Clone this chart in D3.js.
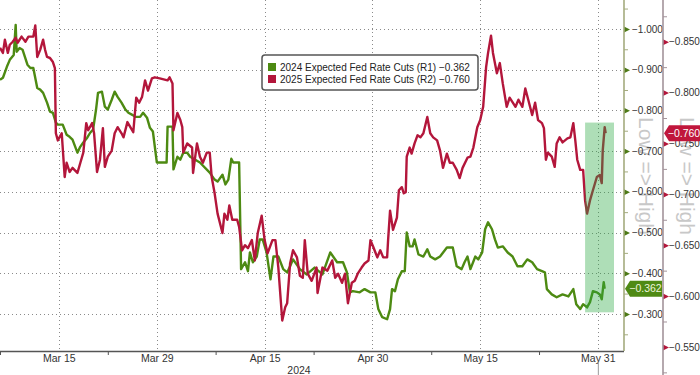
<!DOCTYPE html>
<html>
<head>
<meta charset="utf-8">
<script src="https://cdn.jsdelivr.net/npm/d3@7"></script>
<style>
    body { margin: 0; background: #fff; }
    svg { display: block; font-family: "Liberation Sans", Arial, sans-serif; }
</style>
</head>
<body>
<svg id="chart" width="700" height="375"></svg>
<script>
// x positions are trading days (weekdays) counted from Thu 7 Mar 2024
var startDate = '2024-03-07';
var lastDay = 63.67;

var majorTickDates = ['2024-03-15', '2024-03-29', '2024-04-15', '2024-04-30', '2024-05-15', '2024-05-31'];
var majorTickLabels = ['Mar 15', 'Mar 29', 'Apr 15', 'Apr 30', 'May 15', 'May 31'];
var minorTickDates = ['2024-03-07', '2024-03-22', '2024-04-08', '2024-04-22', '2024-05-08', '2024-05-23'];
var yearLabel = '2024';

var r1Ticks = [-1.0, -0.9, -0.8, -0.7, -0.6, -0.5, -0.4, -0.3];
var r2Ticks = [-0.85, -0.8, -0.75, -0.7, -0.65, -0.6, -0.55];

var seriesNames = ['2024 Expected Fed Rate Cuts (R1)', '2025 Expected Fed Rate Cuts (R2)'];
var lastValues = [-0.362, -0.760];

// highlighted window: trading days, R1 values
var highlightDays = [59.7, 62.65];
var highlightR1 = [-0.770, -0.304];

// [trading day, value]
var cuts2024 = [
    [0.0, -0.875], [0.3, -0.880], [0.7, -0.907], [1.0, -0.924], [1.4, -0.936], [1.6, -1.010], [1.7, -0.944],
    [2.0, -0.953], [2.3, -0.949], [2.8, -0.912], [3.1, -0.904], [3.4, -0.904], [3.8, -0.855], [4.1, -0.851],
    [4.4, -0.843], [4.8, -0.819], [5.1, -0.797], [5.4, -0.794], [5.7, -0.770], [5.9, -0.765], [6.4, -0.765],
    [6.8, -0.740], [7.1, -0.735], [7.4, -0.728], [7.9, -0.696], [8.2, -0.711], [8.5, -0.721], [8.9, -0.733],
    [9.2, -0.745], [9.5, -0.753], [9.8, -0.802], [10.0, -0.843], [10.4, -0.846], [10.7, -0.809], [11.0, -0.802],
    [11.4, -0.826], [11.7, -0.846], [12.0, -0.833], [12.4, -0.819], [12.8, -0.802], [13.1, -0.794], [13.5, -0.789],
    [13.8, -0.784], [14.3, -0.784], [14.6, -0.794], [15.0, -0.782], [15.3, -0.757], [15.6, -0.748], [16.0, -0.672],
    [17.0, -0.672], [17.1, -0.760], [17.6, -0.760], [17.7, -0.655], [18.1, -0.686], [18.4, -0.679], [18.7, -0.696],
    [19.1, -0.696], [19.4, -0.686], [20.4, -0.672], [21.4, -0.647], [21.9, -0.630], [22.2, -0.625], [22.7, -0.642],
    [23.0, -0.618], [23.3, -0.630], [23.6, -0.681], [23.8, -0.672], [24.4, -0.672], [24.6, -0.410], [25.0, -0.427],
    [25.3, -0.405], [25.5, -0.451], [25.8, -0.427], [26.2, -0.441], [26.5, -0.483], [26.8, -0.483], [27.2, -0.451],
    [27.6, -0.385], [27.9, -0.441], [28.4, -0.441], [28.9, -0.410], [29.3, -0.402], [29.6, -0.417], [29.9, -0.434],
    [30.6, -0.410], [31.3, -0.397], [32.1, -0.414], [32.9, -0.397], [33.7, -0.451], [34.4, -0.427], [35.0, -0.427],
    [35.4, -0.402], [35.7, -0.353], [36.0, -0.356], [36.7, -0.353], [37.2, -0.361], [37.8, -0.353], [38.3, -0.353],
    [38.6, -0.312], [39.0, -0.292], [39.5, -0.287], [39.8, -0.312], [40.0, -0.361], [40.3, -0.356], [40.6, -0.385],
    [41.0, -0.405], [41.3, -0.405], [41.5, -0.500], [41.8, -0.466], [42.1, -0.466], [42.3, -0.483], [42.7, -0.446],
    [43.2, -0.441], [43.6, -0.459], [43.9, -0.441], [44.4, -0.434], [44.9, -0.441], [45.6, -0.463], [46.2, -0.463],
    [46.6, -0.417], [47.1, -0.410], [47.4, -0.427], [47.7, -0.441], [48.0, -0.410], [48.5, -0.441], [48.8, -0.434],
    [49.2, -0.451], [49.5, -0.508], [49.8, -0.525], [50.2, -0.508], [50.5, -0.483], [50.8, -0.463], [51.3, -0.466],
    [51.8, -0.451], [52.3, -0.441], [52.8, -0.417], [53.3, -0.417], [53.8, -0.434], [54.3, -0.427], [54.8, -0.410],
    [55.3, -0.405], [55.6, -0.402], [55.8, -0.361], [56.3, -0.348], [56.8, -0.341], [57.4, -0.348], [58.0, -0.343],
    [58.5, -0.361], [58.8, -0.324], [59.2, -0.312], [59.5, -0.324], [59.9, -0.316], [60.2, -0.329], [60.5, -0.356],
    [60.9, -0.353], [61.2, -0.348], [61.4, -0.336], [61.6, -0.378], [61.7, -0.362]
];

var cuts2025 = [
    [0.0, -0.844], [0.3, -0.839], [0.5, -0.852], [0.8, -0.839], [1.0, -0.847], [1.3, -0.850], [1.6, -0.854],
    [1.8, -0.849], [2.2, -0.855], [2.6, -0.850], [2.9, -0.855], [3.4, -0.855], [3.6, -0.866], [3.8, -0.835],
    [4.1, -0.842], [4.4, -0.852], [4.6, -0.842], [4.8, -0.835], [5.1, -0.834], [5.4, -0.830], [5.6, -0.824],
    [5.7, -0.760], [5.9, -0.753], [6.3, -0.760], [6.6, -0.717], [6.8, -0.731], [7.1, -0.722], [7.4, -0.726],
    [7.9, -0.721], [8.2, -0.731], [8.5, -0.741], [8.8, -0.770], [9.0, -0.763], [9.4, -0.770], [9.6, -0.760],
    [9.9, -0.722], [10.2, -0.734], [10.5, -0.765], [10.7, -0.727], [11.0, -0.737], [11.4, -0.743], [11.7, -0.760],
    [12.0, -0.766], [12.4, -0.760], [12.6, -0.756], [13.0, -0.771], [13.3, -0.766], [13.6, -0.761], [13.9, -0.795],
    [14.2, -0.790], [14.5, -0.796], [14.8, -0.812], [15.1, -0.802], [15.5, -0.814], [15.8, -0.815], [16.3, -0.814],
    [17.1, -0.812], [17.3, -0.815], [17.6, -0.809], [17.7, -0.763], [18.1, -0.780], [18.4, -0.773], [18.6, -0.766],
    [18.7, -0.741], [19.1, -0.750], [19.6, -0.746], [19.7, -0.721], [20.1, -0.750], [20.4, -0.737], [20.7, -0.731],
    [21.1, -0.741], [21.4, -0.741], [21.6, -0.717], [21.9, -0.701], [22.2, -0.681], [22.7, -0.662], [22.9, -0.681],
    [23.2, -0.675], [23.4, -0.689], [23.7, -0.675], [24.2, -0.675], [24.4, -0.668], [24.7, -0.645], [25.0, -0.650],
    [25.3, -0.647], [25.7, -0.655], [26.0, -0.635], [26.3, -0.662], [26.7, -0.679], [27.0, -0.655], [27.3, -0.642],
    [27.8, -0.655], [28.1, -0.655], [28.4, -0.628], [28.8, -0.576], [29.1, -0.589], [29.3, -0.593], [29.6, -0.632],
    [29.9, -0.645], [30.3, -0.638], [30.6, -0.620], [30.9, -0.618], [31.1, -0.655], [31.4, -0.622], [31.8, -0.615],
    [32.3, -0.628], [32.4, -0.603], [32.9, -0.628], [33.4, -0.625], [33.9, -0.635], [34.2, -0.618], [34.5, -0.622],
    [34.9, -0.613], [35.2, -0.622], [35.5, -0.593], [35.9, -0.613], [36.2, -0.615], [36.5, -0.622], [36.9, -0.628],
    [37.2, -0.632], [37.6, -0.635], [37.8, -0.655], [38.1, -0.648], [38.5, -0.638], [38.8, -0.645], [39.1, -0.638],
    [39.5, -0.638], [39.6, -0.655], [39.8, -0.684], [40.1, -0.665], [40.5, -0.677], [40.7, -0.704], [41.0, -0.707],
    [41.2, -0.701], [41.4, -0.702], [41.5, -0.737], [41.8, -0.746], [42.0, -0.740], [42.3, -0.750], [42.6, -0.758],
    [42.9, -0.756], [43.2, -0.760], [43.6, -0.776], [43.9, -0.760], [44.2, -0.756], [44.6, -0.753], [44.9, -0.743],
    [45.2, -0.726], [45.6, -0.740], [45.9, -0.731], [46.2, -0.731], [46.6, -0.724], [46.9, -0.716], [47.2, -0.726],
    [47.7, -0.736], [48.0, -0.737], [48.3, -0.746], [48.7, -0.766], [49.0, -0.773], [49.3, -0.786], [49.6, -0.825],
    [49.8, -0.839], [50.1, -0.856], [50.3, -0.839], [50.7, -0.819], [51.0, -0.829], [51.3, -0.809], [51.7, -0.786],
    [52.0, -0.795], [52.6, -0.786], [52.9, -0.793], [53.3, -0.786], [53.6, -0.804], [53.9, -0.793], [54.3, -0.778],
    [54.6, -0.790], [54.9, -0.773], [55.3, -0.770], [55.5, -0.765], [55.7, -0.734], [55.9, -0.741], [56.3, -0.737],
    [56.6, -0.727], [56.8, -0.750], [57.1, -0.756], [57.4, -0.751], [57.9, -0.755], [58.2, -0.756], [58.5, -0.770],
    [58.7, -0.753], [58.9, -0.734], [59.2, -0.724], [59.5, -0.724], [59.7, -0.694], [59.9, -0.681], [60.2, -0.694],
    [60.5, -0.704], [60.9, -0.717], [61.2, -0.719], [61.4, -0.711], [61.5, -0.743], [61.7, -0.766], [61.8, -0.760]
];

var green = '#4d8a12', red = '#b3163b';

// count weekdays between startDate and a date
function dayIndex(s) {
    var d = new Date(s + 'T00:00:00Z'), t = new Date(startDate + 'T00:00:00Z'), n = 0;
    while (t < d) {
        t.setUTCDate(t.getUTCDate() + 1);
        var w = t.getUTCDay();
        if (w !== 0 && w !== 6) n++;
    }
    return n;
}

var plotW = 624, plotH = 351;
var svg = d3.select('#chart');

var x = d3.scaleLinear().domain([0, lastDay]).range([0, plotW]);
var yR1 = d3.scaleLinear().domain([-1.071, -0.209]).range([0, plotH]);
var yR2 = d3.scaleLinear().domain([-0.891, -0.546]).range([0, plotH]);

// dotted grid
var grid = svg.append('g')
    .attr('stroke', '#8a8a8a')
    .attr('stroke-dasharray', '1,3')
    .attr('stroke-width', 1);
grid.selectAll('.h')
    .data(r1Ticks)
    .join('line')
    .attr('x1', 0).attr('x2', plotW)
    .attr('y1', d => Math.round(yR1(d)) + 0.5).attr('y2', d => Math.round(yR1(d)) + 0.5);
grid.selectAll('.v')
    .data(majorTickDates)
    .join('line')
    .attr('x1', d => Math.round(x(dayIndex(d))) + 0.5).attr('x2', d => Math.round(x(dayIndex(d))) + 0.5)
    .attr('y1', 0).attr('y2', plotH);

// "Low => High" captions
[646, 687].forEach(function(cx) {
    svg.append('text')
        .attr('transform', 'translate(' + cx + ',176) rotate(90)')
        .attr('text-anchor', 'middle')
        .attr('dy', '0.35em')
        .attr('font-size', '21px')
        .attr('fill', '#c8c8c8')
        .text('Low => High');
});

// series lines
var lineR1 = d3.line().x(d => x(d[0])).y(d => yR1(d[1]));
var lineR2 = d3.line().x(d => x(d[0])).y(d => yR2(d[1]));

svg.append('path')
    .datum(cuts2024)
    .attr('d', lineR1)
    .attr('fill', 'none')
    .attr('stroke', green)
    .attr('stroke-width', 2.4)
    .attr('stroke-linejoin', 'round');

svg.append('path')
    .datum(cuts2025)
    .attr('d', lineR2)
    .attr('fill', 'none')
    .attr('stroke', red)
    .attr('stroke-width', 2.4)
    .attr('stroke-linejoin', 'round');

// highlighted window
svg.append('rect')
    .attr('x', x(highlightDays[0]))
    .attr('y', yR1(highlightR1[0]))
    .attr('width', x(highlightDays[1]) - x(highlightDays[0]))
    .attr('height', yR1(highlightR1[1]) - yR1(highlightR1[0]))
    .attr('fill', '#2aa743')
    .attr('opacity', 0.38);

// bottom axis
var xAxis = svg.append('g')
    .attr('transform', 'translate(0,' + plotH + ')')
    .call(d3.axisBottom(x)
        .tickValues(majorTickDates.map(dayIndex))
        .tickFormat((d, i) => majorTickLabels[i])
        .tickSize(0)
        .tickPadding(4));
xAxis.select('.domain').remove();
xAxis.selectAll('text').attr('font-size', '10.5px').attr('fill', '#333').attr('font-family', null);

var xMinor = svg.append('g')
    .attr('transform', 'translate(0,' + plotH + ')')
    .call(d3.axisBottom(x)
        .tickValues(minorTickDates.map(dayIndex))
        .tickFormat('')
        .tickSize(4));
xMinor.select('.domain').remove();
xMinor.selectAll('line').attr('stroke', '#555');

svg.append('line')
    .attr('x1', 0).attr('x2', plotW)
    .attr('y1', plotH + 0.5).attr('y2', plotH + 0.5)
    .attr('stroke', '#555').attr('stroke-width', 1.5);

svg.append('text')
    .attr('x', 299).attr('y', 374)
    .attr('text-anchor', 'middle')
    .attr('font-size', '10.5px')
    .attr('fill', '#333')
    .text(yearLabel);

svg.append('line')
    .attr('x1', x(dayIndex(majorTickDates[5])) + 0.5).attr('x2', x(dayIndex(majorTickDates[5])) + 0.5)
    .attr('y1', 362).attr('y2', 375)
    .attr('stroke', '#999');

// right axes with triangle markers
function drawRightAxis(scale, ticks, left, lineColor, markColor, bottom, pad) {
    var minor = d3.range(ticks.length + 1).map(i => ticks[0] - (ticks[1] - ticks[0]) / 2 + i * (ticks[1] - ticks[0]));
    var g = svg.append('g').attr('transform', 'translate(' + left + ',0)');
    g.append('g')
        .call(d3.axisRight(scale).tickValues(minor).tickFormat('').tickSize(4))
        .call(a => a.select('.domain').remove())
        .selectAll('line').attr('stroke', lineColor);
    var ax = g.append('g')
        .call(d3.axisRight(scale).tickValues(ticks).tickFormat(d3.format('.3f')).tickSize(0).tickPadding(pad));
    ax.select('.domain').remove();
    ax.selectAll('text').attr('font-size', '10px').attr('fill', '#333').attr('font-family', null);
    ax.selectAll('.tick').append('path')
        .attr('d', 'M0,-3L6,0L0,3Z')
        .attr('fill', markColor);
    g.append('line')
        .attr('x1', 0).attr('x2', 0)
        .attr('y1', 0).attr('y2', bottom)
        .attr('stroke', lineColor).attr('stroke-width', 1.6);
}
drawRightAxis(yR1, r1Ticks, 624, '#a4ab7e', '#4d7a16', plotH, 8);
drawRightAxis(yR2, r2Ticks, 663, '#a3939a', '#b3163b', 375, 6);

// last value tags
function valueTag(left, right, cy, fill, textFill, label) {
    svg.append('path')
        .attr('d', 'M' + left + ',' + cy + 'L' + (left + 5) + ',' + (cy - 8) + 'L' + right + ',' + (cy - 8) +
            'L' + right + ',' + (cy + 8) + 'L' + (left + 5) + ',' + (cy + 8) + 'Z')
        .attr('fill', fill);
    svg.append('text')
        .attr('x', (left + right) / 2 + 2).attr('y', cy)
        .attr('dy', '0.35em')
        .attr('text-anchor', 'middle')
        .attr('font-size', '10.5px')
        .attr('fill', textFill)
        .text(label);
}
var fmt = d3.format('.3f');
valueTag(664, 700, yR2(lastValues[1]), '#c0163c', '#fff', fmt(lastValues[1]));
valueTag(625, 662, yR1(lastValues[0]), '#4f8a14', '#eef5dc', fmt(lastValues[0]));

// legend
var legend = svg.append('g').attr('transform', 'translate(262,55)');
legend.append('rect')
    .attr('width', 216).attr('height', 35)
    .attr('rx', 3)
    .attr('fill', '#fff')
    .attr('stroke', '#555')
    .attr('stroke-width', 1.5);
legend.selectAll('.item')
    .data(seriesNames)
    .join('g')
    .attr('transform', (d, i) => 'translate(6,' + (8 + i * 12) + ')')
    .each(function(d, i) {
        var item = d3.select(this);
        item.append('rect').attr('width', 8).attr('height', 8).attr('fill', i === 0 ? green : red);
        item.append('text')
            .attr('x', 12).attr('y', 4)
            .attr('dy', '0.35em')
            .attr('font-size', '10px')
            .attr('fill', '#222')
            .text(d + ' ' + fmt(lastValues[i]));
    });
</script>
</body>
</html>
